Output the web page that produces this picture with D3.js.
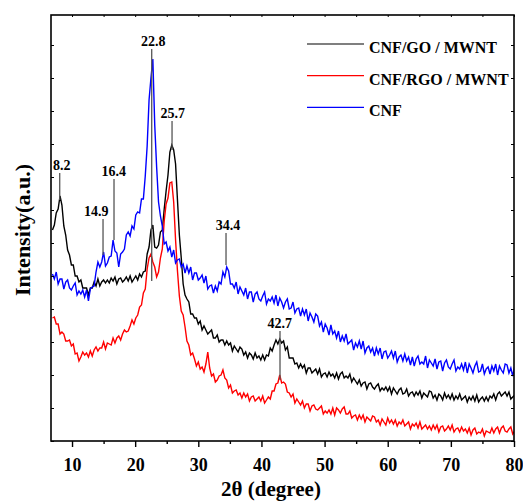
<!DOCTYPE html>
<html><head><meta charset="utf-8">
<script src="https://cdn.jsdelivr.net/npm/d3@7"></script>
<style>
html,body{margin:0;padding:0;background:#fff;}
svg{display:block;}
text{font-family:'Liberation Serif','Times New Roman',serif;font-weight:bold;fill:#000;}
</style>
</head><body>
<svg id="chart" width="523" height="502"></svg>
<script>
// ---- data ----
const angles = d3.range(245).map(i => +(6.9 + 0.3 * i).toFixed(1)); // scan grid, 2θ (deg)
const seriesNames = ["CNF/GO / MWNT", "CNF/RGO / MWNT", "CNF"];
const seriesColors = ["#000000", "#ff0000", "#0000ff"];
const goMWNT = [
211,216,228,232,245,236,215,206,191,186,
176,176,165,165,159,161,153,153,153,146,
153,153,159,155,162,155,159,161,158,161,
158,163,160,164,157,162,163,159,161,164,
160,165,159,162,165,161,167,164,169,170,
187,194,211,216,194,193,196,209,211,232,
250,266,289,296,291,277,241,206,183,157,
146,142,139,127,127,123,123,117,120,111,
115,111,107,109,111,103,103,106,99,101,
101,96,100,96,98,90,95,92,89,94,
92,86,89,83,88,86,82,88,83,85,
81,86,81,86,85,93,90,96,101,97,
102,98,100,91,94,83,83,83,77,78,
73,77,73,76,68,73,73,68,70,72,
67,72,64,67,68,64,69,65,67,63,
68,62,67,69,63,65,63,67,59,63,
60,57,61,55,58,59,52,57,58,54,
52,55,57,50,53,51,54,50,54,47,
53,50,47,51,53,47,48,52,45,48,
49,45,49,46,50,43,48,46,44,50,
49,43,46,41,47,45,41,48,43,46,
42,47,41,45,42,47,41,43,45,39,
44,41,45,40,46,39,42,44,40,44,
40,45,43,47,41,47,49,45,47,49,
45,49,42,44,46];
const rgoMWNT = [
123,124,117,117,107,109,107,100,100,101,
95,97,87,88,80,84,89,86,88,84,
90,85,91,94,90,93,93,99,92,98,
97,96,103,98,103,105,101,107,111,109,
110,115,121,117,123,126,134,136,148,152,
172,183,187,179,174,164,169,183,192,220,
237,243,258,259,239,201,170,145,130,126,
114,100,96,86,88,82,75,79,72,74,
69,77,89,73,65,67,59,61,65,66,
71,63,61,53,56,48,50,51,46,48,
43,48,44,47,40,44,45,40,42,44,
40,45,38,41,44,42,50,50,57,58,
66,58,59,57,49,48,44,47,38,42,
39,36,40,33,37,37,30,35,36,32,
31,33,35,27,30,28,31,27,33,26,
33,31,28,32,34,27,27,30,23,25,
26,21,26,22,26,19,24,22,20,25,
24,19,21,16,22,19,16,23,18,21,
17,21,15,19,17,21,15,17,19,12,
17,15,18,13,19,12,14,16,12,15,
11,16,12,16,9,14,15,10,12,15,
11,16,9,12,13,9,14,10,12,8,
13,6,11,13,7,9,8,12,5,10,
9,8,13,8,12,14,8,13,15,10,
9,12,14,7,10];
const cnf = [
167,162,169,157,162,162,152,159,161,153,
151,155,158,146,150,147,151,144,151,140,
152,154,155,169,179,174,179,189,175,178,
184,185,201,190,188,174,187,189,192,206,
209,205,215,212,226,229,228,242,242,265,
295,341,363,382,316,274,239,225,215,197,
199,190,194,184,191,178,181,182,174,177,
168,175,168,174,161,168,168,161,163,166,
158,165,152,155,156,148,155,150,159,157,
169,164,174,170,157,157,153,159,147,154,
150,146,153,142,149,149,139,147,149,142,
140,145,149,137,142,140,144,138,146,135,
143,139,133,139,142,132,133,139,128,132,
133,125,132,126,132,120,128,124,119,127,
125,115,119,109,117,113,106,116,107,110,
103,110,99,105,100,107,97,99,101,91,
98,94,100,92,100,88,93,95,89,93,
85,93,87,93,82,89,90,83,86,90,
83,90,79,84,86,80,87,80,84,76,
84,75,82,85,77,79,77,85,73,81,
78,75,82,72,79,80,70,78,81,74,
72,77,81,70,74,72,77,71,79,68,
77,73,68,75,79,69,70,77,67,72,
74,67,75,70,77,66,75,71,68,77,
76,68,73,65,74];
const xTickValues = [10, 20, 30, 40, 50, 60, 70, 80];
const xMinorTicks = [15, 25, 35, 45, 55, 65, 75];
const yTickValues = [0, 33, 66, 99, 132, 165, 198, 231, 264, 297, 330, 363, 396];
const peakLabels = ["8.2", "14.9", "16.4", "22.8", "25.7", "34.4", "42.7"];
const peakLinePos = [8.05, 14.91, 16.65, 22.62, 25.84, 34.39, 42.94];
const peakLabelPos = [8.37, 13.85, 16.6, 22.85, 25.95, 34.71, 42.89];
const peakTop = [268, 222, 262, 392, 320, 208, 110];
const peakBottom = [241, 186, 201, 160, 291, 176, 61];

// ---- chart ----
const svg = d3.select("#chart");
const L = 51, R = 514, T = 15, B = 441;
const x = d3.scaleLinear().domain([6.67, 80]).range([L, R]);
const y = d3.scaleLinear().domain([0, 426]).range([B, T]);

svg.append("defs").append("clipPath").attr("id", "clip")
  .append("rect").attr("x", L).attr("y", T).attr("width", R - L).attr("height", B - T);

const series = [goMWNT, rgoMWNT, cnf];
const line = d3.line().x((d, i) => x(angles[i])).y(d => y(d));
const plot = svg.append("g").attr("clip-path", "url(#clip)");
series.forEach((s, k) => {
  plot.append("path").datum(s)
    .attr("d", line)
    .attr("fill", "none")
    .attr("stroke", seriesColors[k])
    .attr("stroke-width", 1.4)
    .attr("stroke-linejoin", "miter");
});

// peak annotations
peakLabels.forEach((lab, i) => {
  svg.append("line")
    .attr("x1", x(peakLinePos[i])).attr("x2", x(peakLinePos[i]))
    .attr("y1", y(peakTop[i])).attr("y2", y(peakBottom[i]))
    .attr("stroke", "#555").attr("stroke-width", 1.3);
  svg.append("text")
    .attr("x", x(peakLabelPos[i])).attr("y", y(peakTop[i]) - 3)
    .attr("text-anchor", "middle").attr("font-size", 14)
    .text(lab);
});

// axes
const gb = svg.append("g").attr("transform", `translate(0,${B})`)
  .call(d3.axisBottom(x).tickValues(xTickValues).tickSize(6).tickFormat(d3.format("d")));
gb.select(".domain").remove();
gb.selectAll("text").attr("y", 30).attr("dy", null).attr("font-size", 18)
  .attr("font-family", "'Liberation Serif','Times New Roman',serif").attr("font-weight", "bold");
gb.selectAll("line").attr("stroke-width", 1.4);
const gbm = svg.append("g").attr("transform", `translate(0,${B})`)
  .call(d3.axisBottom(x).tickValues(xMinorTicks).tickSize(3).tickFormat(""));
gbm.select(".domain").remove();
gbm.selectAll("line").attr("stroke-width", 1.4);

const gt = svg.append("g").attr("transform", `translate(0,${T})`)
  .call(d3.axisTop(x).tickValues(xTickValues.concat(xMinorTicks)).tickSize(-2).tickFormat(""));
gt.select(".domain").remove();
const gl = svg.append("g").attr("transform", `translate(${L},0)`)
  .call(d3.axisLeft(y).tickValues(yTickValues).tickSize(-3).tickFormat(""));
gl.select(".domain").remove();
const gr = svg.append("g").attr("transform", `translate(${R},0)`)
  .call(d3.axisRight(y).tickValues(yTickValues).tickSize(-3).tickFormat(""));
gr.select(".domain").remove();

// frame
svg.append("rect").attr("x", L).attr("y", T).attr("width", R - L).attr("height", B - T)
  .attr("fill", "none").attr("stroke", "#000").attr("stroke-width", 1.6);

// titles
svg.append("text").attr("x", 271).attr("y", 496).attr("text-anchor", "middle")
  .attr("font-size", 21).text("2θ (degree)");
svg.append("text").attr("transform", "translate(30,230) rotate(-90)")
  .attr("text-anchor", "middle").attr("font-size", 22).text("Intensity(a.u.)");

// legend
const leg = svg.append("g");
seriesNames.forEach((n, i) => {
  const ly = 44 + i * 31.7;
  leg.append("line").attr("x1", 307).attr("x2", 364).attr("y1", ly).attr("y2", ly)
    .attr("stroke", seriesColors[i]).attr("stroke-width", 1.2);
  leg.append("text").attr("x", 369).attr("y", ly + 9).attr("font-size", 16).text(n);
});
</script>
</body></html>
